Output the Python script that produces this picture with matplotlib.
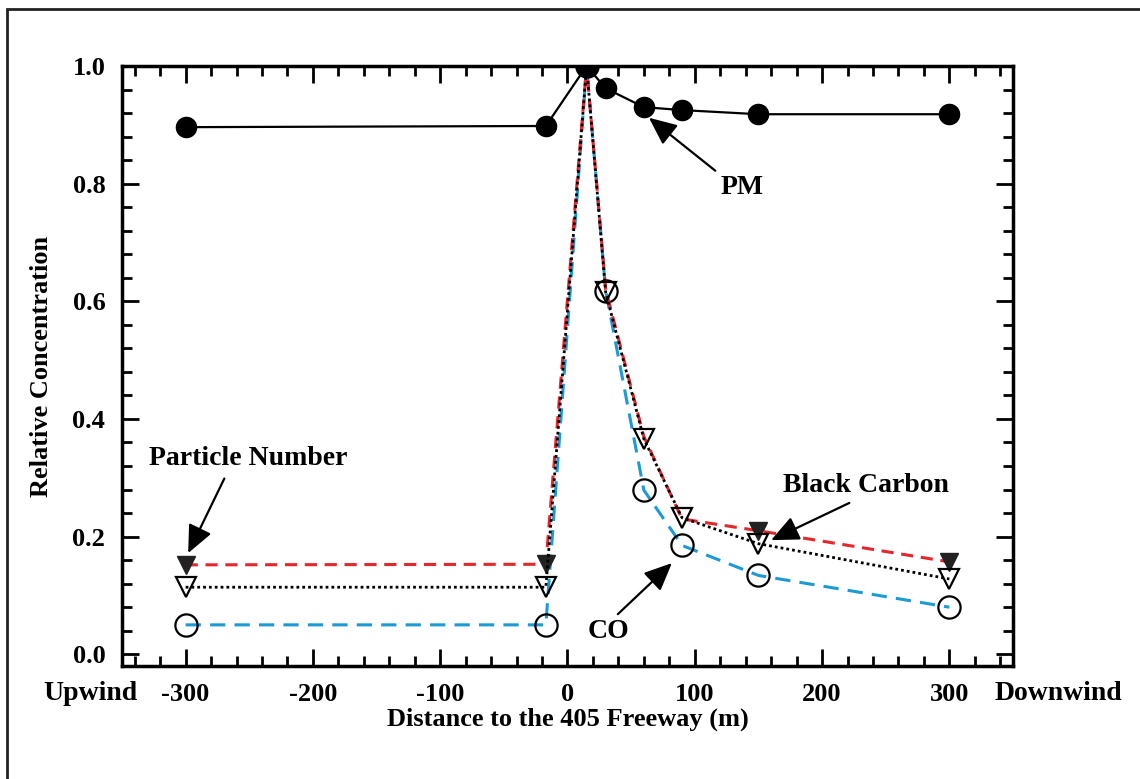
import matplotlib
matplotlib.use("Agg")
import matplotlib.pyplot as plt
from matplotlib.ticker import MultipleLocator
from matplotlib.patches import Rectangle

# Data
distance = [-300, -17, 15, 30, 60, 90, 150, 300]
pm = [0.896, 0.898, 1.0, 0.962, 0.930, 0.925, 0.918, 0.918]
particle_number = [0.152, 0.153, 1.0, 0.62, 0.37, 0.23, 0.21, 0.157]
black_carbon = [0.114, 0.114, 1.0, 0.615, 0.366, 0.232, 0.188, 0.128]
co = [0.050, 0.050, 1.0, 0.618, 0.279, 0.185, 0.134, 0.080]
x_ticks = [-300, -200, -100, 0, 100, 200, 300]
y_ticks = [0.0, 0.2, 0.4, 0.6, 0.8, 1.0]

plt.rcParams['font.family'] = ['Liberation Serif', 'DejaVu Serif']
plt.rcParams['font.weight'] = 'bold'
plt.rcParams['axes.unicode_minus'] = False

fig = plt.figure(figsize=(11.4, 7.79), dpi=100)
ax = fig.add_axes([0.107, 0.145, 0.7816, 0.7703])

# figure border (left/top visible)
fig.patches.append(Rectangle((7/1140, -0.05), 1.2, 1 - 9/779 + 0.05,
                             transform=fig.transFigure, fill=False,
                             edgecolor='#222222', lw=2.0, zorder=0))

red = '#E5262B'
blue = '#1B9AD6'

ax.plot(distance, pm, color='black', lw=1.6, marker='o', ms=14.5,
        mfc='black', mec='black', zorder=5)
ax.plot(distance, particle_number, color=red, lw=2.2, ls=(0, (4, 2.5)),
        marker='v', ms=13, mfc='#222222', mec='#222222',
        markevery=[0, 1, 6, 7], zorder=3)
ax.plot(distance, co, color=blue, lw=2.2, ls=(0, (5, 3)),
        marker='o', ms=16, mfc='none', mec='black', mew=1.6, zorder=2)
ax.plot(distance, black_carbon, color='black', lw=2.0, ls=(0, (1, 1.1)),
        marker='v', ms=15, mfc='none', mec='black', mew=1.6, zorder=4)

ax.set_xlim(-350, 350)
ax.set_ylim(-0.02, 1.0)
ax.set_xticks(x_ticks)
ax.set_yticks(y_ticks)
ax.set_xticklabels([str(v) for v in x_ticks])
ax.set_yticklabels([f"{v:.1f}" for v in y_ticks])
ax.xaxis.set_minor_locator(MultipleLocator(20))
ax.yaxis.set_minor_locator(MultipleLocator(0.04))
ax.tick_params(which='both', direction='in', top=True, right=True,
               labelsize=19, width=2)
ax.tick_params(which='major', length=12, pad=12)
ax.tick_params(which='minor', length=7)
for s in ax.spines.values():
    s.set_linewidth(2.5)
for lab in ax.get_xticklabels() + ax.get_yticklabels():
    lab.set_fontweight('bold')

ax.set_ylabel('Relative Concentration', fontsize=19, fontweight='bold', labelpad=14)
ax.set_xlabel('Distance to the 405 Freeway (m)', fontsize=19,
              fontweight='bold', labelpad=1)

ax.text(43/1140, 1 - 693/779, 'Upwind', transform=fig.transFigure, fontsize=20,
        fontweight='bold', ha='left', va='center')
ax.text(995/1140, 1 - 693/779, 'Downwind', transform=fig.transFigure, fontsize=20,
        fontweight='bold', ha='left', va='center')

arrow = dict(arrowstyle='-|>,head_length=0.85,head_width=0.38', color='black',
             lw=1.6, shrinkA=2, shrinkB=0)
ax.annotate('PM', xy=(64, 0.912), xytext=(120, 0.794), fontsize=20,
            fontweight='bold', ha='left', va='center',
            arrowprops=dict(arrow, relpos=(0.0, 1.0)))
ax.annotate('Particle Number', xy=(-298, 0.172), xytext=(-329, 0.312),
            fontsize=20, fontweight='bold', ha='left', va='bottom',
            arrowprops=dict(arrow, relpos=(0.4, 0.0), shrinkA=4))
ax.annotate('Black Carbon', xy=(160, 0.194), xytext=(169, 0.265),
            fontsize=20, fontweight='bold', ha='left', va='bottom',
            arrowprops=dict(arrow, relpos=(0.46, 0.0), shrinkA=3))
ax.annotate('CO', xy=(82, 0.155), xytext=(16, 0.039),
            fontsize=20, fontweight='bold', ha='left', va='center',
            arrowprops=dict(arrow, relpos=(0.6, 1.0)))

fig.savefig('out.png', dpi=100)
